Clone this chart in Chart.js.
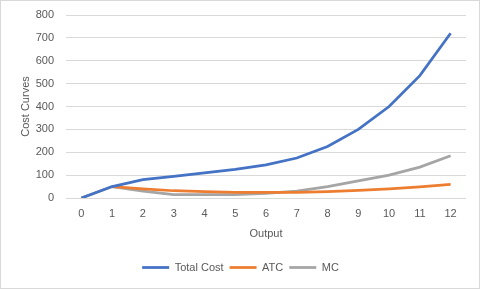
<!DOCTYPE html>
<html lang="en">
<head>
  <meta charset="UTF-8">
  <title>Cost Curves</title>
  <script src="https://cdn.jsdelivr.net/npm/chart.js"></script>
  <style>
    body { margin: 0; background: #fff; }
    #wrap { position: relative; width: 480px; height: 289px; }
  </style>
</head>
<body>
  <div id="wrap"><canvas id="costChart"></canvas></div>
  <script>
    const output = ["0", "1", "2", "3", "4", "5", "6", "7", "8", "9", "10", "11", "12"];
    const totalCost = [0, 50, 80, 95, 110, 125, 145, 175, 225, 300, 400, 535, 720];
    const atc = [null, 50, 40, 31.7, 27.5, 25, 24.2, 25, 28.1, 33.3, 40, 48.6, 60];
    const mc = [0, 50, 30, 15, 15, 15, 20, 30, 50, 75, 100, 135, 185];

    const textColor = "#595959";
    const font = { family: "Liberation Sans", size: 11 };

    // thin frame round the whole chart, like the Excel chart border
    const frame = {
      id: "frame",
      afterDraw(chart) {
        const ctx = chart.ctx;
        ctx.save();
        ctx.strokeStyle = "#D9D9D9";
        ctx.lineWidth = 1;
        ctx.strokeRect(0.5, 0.5, chart.width - 1, chart.height - 1);
        ctx.restore();
      }
    };

    new Chart(document.getElementById("costChart"), {
      type: "line",
      data: {
        labels: output,
        datasets: [
          { label: "Total Cost", data: totalCost, borderColor: "#4472C4", backgroundColor: "#4472C4", borderWidth: 2.75 },
          { label: "ATC", data: atc, borderColor: "#ED7D31", backgroundColor: "#ED7D31", borderWidth: 2.75 },
          { label: "MC", data: mc, borderColor: "#A5A5A5", backgroundColor: "#A5A5A5", borderWidth: 2.75 }
        ]
      },
      options: {
        responsive: true,
        maintainAspectRatio: false,
        animation: false,
        layout: { padding: { top: 15, right: 14, bottom: 6, left: 15 } },
        elements: {
          line: { tension: 0, fill: false },
          point: { radius: 0, hoverRadius: 0 }
        },
        plugins: {
          tooltip: { enabled: false },
          legend: {
            position: "bottom",
            labels: {
              color: textColor,
              font: font,
              usePointStyle: true,
              pointStyle: "line",
              pointStyleWidth: 27,
              padding: 6
            }
          }
        },
        scales: {
          x: {
            offset: true,
            grid: { display: false, drawTicks: false },
            border: { display: false },
            ticks: { color: textColor, font: font, padding: 9, maxRotation: 0 },
            title: { display: true, text: "Output", color: textColor, font: font, padding: { top: 4, bottom: 15 } },
            afterFit(scale) { scale.height = 58; }
          },
          y: {
            min: 0,
            max: 800,
            // gap between labels and plot comes from an invisible tick mark
            grid: { color: "#D9D9D9", drawTicks: true, tickLength: 12, tickColor: "rgba(0,0,0,0)" },
            border: { display: false },
            ticks: { stepSize: 100, color: textColor, font: font, padding: 0 },
            title: { display: true, text: "Cost Curves", color: textColor, font: font },
            afterFit(scale) { scale.width = 51; }
          }
        }
      },
      plugins: [frame]
    });
  </script>
</body>
</html>
